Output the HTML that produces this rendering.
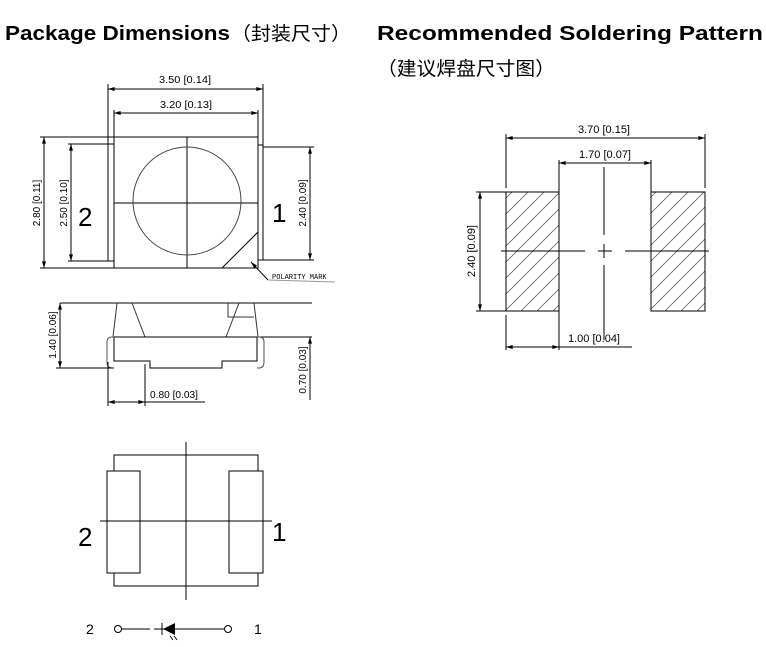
<!DOCTYPE html>
<html><head><meta charset="utf-8"><style>
html,body{margin:0;padding:0;background:#fff;width:766px;height:647px;overflow:hidden}
svg{display:block}
.t{font-family:"Liberation Sans",Arial,sans-serif}
</style></head><body>
<svg width="766" height="647" viewBox="0 0 766 647" xmlns="http://www.w3.org/2000/svg">
<defs>
<marker id="a" viewBox="0 0 10 6" refX="10" refY="3" markerWidth="7" markerHeight="4" orient="auto-start-reverse"><path d="M0,0L10,3L0,6z" fill="#000"/></marker>
<pattern id="h" patternUnits="userSpaceOnUse" width="16" height="16">
<path d="M-2,18L18,-2M-10,10L10,-10M6,26L26,6" stroke="#444" stroke-width="0.7"/></pattern>
</defs>
<g class="t" font-weight="bold" font-size="20" fill="#000">
<text x="5" y="40" textLength="225" lengthAdjust="spacingAndGlyphs">Package Dimensions</text>
<text x="377" y="40" textLength="386" lengthAdjust="spacingAndGlyphs">Recommended Soldering Pattern</text>
</g>
<text x="231" y="40" font-size="19" textLength="120" lengthAdjust="spacingAndGlyphs" font-family="'Liberation Sans','Noto Sans CJK SC',sans-serif">（封装尺寸）</text>
<text x="377" y="75" font-size="19" textLength="178" lengthAdjust="spacingAndGlyphs" font-family="'Liberation Sans','Noto Sans CJK SC',sans-serif">（建议焊盘尺寸图）</text>

<g stroke="#000" stroke-width="1" fill="none">
<rect x="114" y="137" width="144" height="131"/>
<rect x="108" y="144" width="6" height="117"/>
<rect x="258" y="145" width="5" height="115"/>
<line x1="187" y1="137" x2="187" y2="268"/>
<line x1="114" y1="203" x2="258" y2="203"/>
<circle cx="187" cy="201" r="54" stroke="#444"/>
<line x1="258" y1="232" x2="222" y2="268"/>
<line x1="108" y1="84" x2="108" y2="144"/><line x1="263" y1="84" x2="263" y2="145"/>
<line x1="108" y1="89" x2="263" y2="89" marker-start="url(#a)" marker-end="url(#a)"/>
<line x1="114" y1="110" x2="114" y2="137"/><line x1="258" y1="110" x2="258" y2="137"/>
<line x1="114" y1="113" x2="258" y2="113" marker-start="url(#a)" marker-end="url(#a)"/>
<line x1="40" y1="137" x2="114" y2="137"/><line x1="40" y1="268" x2="114" y2="268"/>
<line x1="44" y1="137" x2="44" y2="268" marker-start="url(#a)" marker-end="url(#a)"/>
<line x1="68" y1="144" x2="108" y2="144"/><line x1="68" y1="261" x2="108" y2="261"/>
<line x1="71" y1="144" x2="71" y2="261" marker-start="url(#a)" marker-end="url(#a)"/>
<line x1="263" y1="147" x2="314" y2="147"/><line x1="263" y1="260" x2="314" y2="260"/>
<line x1="310" y1="147" x2="310" y2="260" marker-start="url(#a)" marker-end="url(#a)"/>
<line x1="268" y1="280" x2="251" y2="262" marker-end="url(#a)"/>
<line x1="268" y1="280" x2="335" y2="282" stroke="#999"/>
<line x1="60" y1="303" x2="312" y2="303"/>
<path d="M117,303L113,337M132,303L145,337M239,303L226,337M254,303L258,337M228,303V317H254" stroke="#333"/>
<line x1="114" y1="337" x2="312" y2="337"/>
<path d="M114,337V361H150V368H222V361H257V337"/>
<path d="M114,337H112Q107,337 107,342V362Q107,368 112,368H114" stroke="#555"/>
<path d="M257,337H259Q264,337 264,342V362Q264,368 259,368H257" stroke="#555"/>
<line x1="56" y1="368" x2="114" y2="368"/>
<line x1="60" y1="303" x2="60" y2="368" marker-start="url(#a)" marker-end="url(#a)"/>
<line x1="310" y1="337" x2="310" y2="400" marker-start="url(#a)"/>
<line x1="108" y1="362" x2="108" y2="406"/><line x1="145" y1="364" x2="145" y2="406"/>
<line x1="108" y1="402" x2="145" y2="402" marker-start="url(#a)" marker-end="url(#a)"/>
<line x1="145" y1="402" x2="205" y2="402"/>
<rect x="114" y="455" width="144" height="131"/>
<rect x="107" y="471" width="33" height="102" fill="#fff"/>
<rect x="229" y="471" width="34" height="102" fill="#fff"/>
<line x1="186" y1="442" x2="186" y2="600"/>
<line x1="100" y1="521" x2="272" y2="521"/>
<circle cx="118" cy="629" r="3.5"/><circle cx="228" cy="629" r="3.5"/>
<line x1="122" y1="629" x2="150" y2="629"/><line x1="154" y1="629" x2="224" y2="629"/>
<line x1="162" y1="623" x2="162" y2="635"/>
<rect x="506" y="192" width="53" height="119" fill="url(#h)"/>
<rect x="651" y="192" width="54" height="119" fill="url(#h)"/>
<path d="M501,251H585M598,251H612M625,251H709M604,167V235M604,244V258M604,265V340"/>
<line x1="506" y1="134" x2="506" y2="188"/><line x1="705" y1="134" x2="705" y2="188"/>
<line x1="506" y1="138" x2="705" y2="138" marker-start="url(#a)" marker-end="url(#a)"/>
<line x1="559" y1="160" x2="559" y2="192"/><line x1="651" y1="160" x2="651" y2="192"/>
<line x1="559" y1="163" x2="651" y2="163" marker-start="url(#a)" marker-end="url(#a)"/>
<line x1="476" y1="192" x2="506" y2="192"/><line x1="476" y1="311" x2="506" y2="311"/>
<line x1="480" y1="192" x2="480" y2="311" marker-start="url(#a)" marker-end="url(#a)"/>
<line x1="506" y1="315" x2="506" y2="350"/><line x1="559" y1="311" x2="559" y2="350"/>
<line x1="506" y1="347" x2="559" y2="347" marker-start="url(#a)" marker-end="url(#a)"/>
<line x1="559" y1="347" x2="632" y2="347"/>
</g>
<path d="M163,629L175,623V635Z" fill="#000"/>
<path d="M170,636l3,4M174,636l3,4" stroke="#000" stroke-width="1"/>

<g class="t" fill="#000" font-size="10">
<text x="185" y="83" text-anchor="middle" textLength="52" lengthAdjust="spacingAndGlyphs">3.50 [0.14]</text>
<text x="186" y="108" text-anchor="middle" textLength="52" lengthAdjust="spacingAndGlyphs">3.20 [0.13]</text>
<text transform="translate(40,203) rotate(-90)" text-anchor="middle">2.80 [0.11]</text>
<text transform="translate(67,203) rotate(-90)" text-anchor="middle">2.50 [0.10]</text>
<text transform="translate(306,203) rotate(-90)" text-anchor="middle">2.40 [0.09]</text>
<text transform="translate(56,335) rotate(-90)" text-anchor="middle">1.40 [0.06]</text>
<text transform="translate(306,370) rotate(-90)" text-anchor="middle">0.70 [0.03]</text>
<text x="150" y="398" textLength="48" lengthAdjust="spacingAndGlyphs">0.80 [0.03]</text>
<text x="272" y="279" font-size="7" font-family="'Liberation Mono',monospace">POLARITY MARK</text>
<text x="604" y="133" text-anchor="middle" font-size="11">3.70 [0.15]</text>
<text x="605" y="158" text-anchor="middle" font-size="11">1.70 [0.07]</text>
<text transform="translate(475,251) rotate(-90)" text-anchor="middle" font-size="11">2.40 [0.09]</text>
<text x="568" y="342" font-size="11">1.00 [0.04]</text>
<text x="78" y="226" font-size="26">2</text>
<text x="272" y="222" font-size="26">1</text>
<text x="78" y="546" font-size="26">2</text>
<text x="272" y="541" font-size="26">1</text>
<text x="86" y="634" font-size="14">2</text>
<text x="254" y="634" font-size="14">1</text>
</g>
</svg>
</body></html>
